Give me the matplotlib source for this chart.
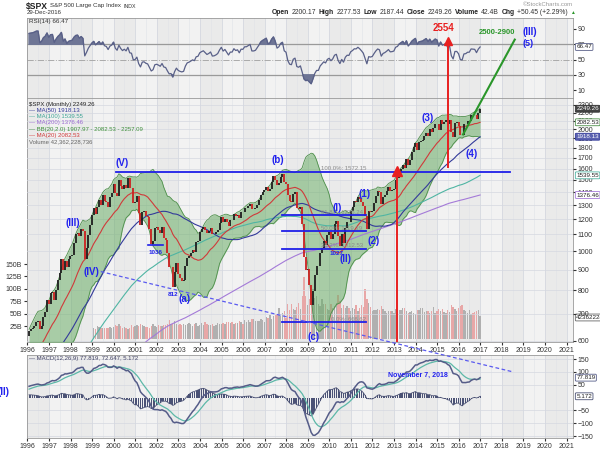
import numpy as np
import pandas as pd
import matplotlib
matplotlib.use("Agg")
import matplotlib.pyplot as plt
import matplotlib.transforms as mtransforms
from matplotlib.lines import Line2D

plt.rcParams["font.family"] = ["Liberation Sans", "DejaVu Sans"]

# S&P 500 monthly closes (Jan 1984 .. Dec 2016); pre-1996 only feeds the indicators
close_1984_1989 = [163.4, 157.1, 159.2, 160.1, 150.6, 153.2, 150.7, 166.7, 166.1, 166.1, 163.6, 167.2,
                   179.6, 181.2, 180.7, 179.8, 189.6, 191.9, 190.9, 188.6, 182.1, 189.8, 202.2, 211.3,
                   211.8, 226.9, 238.9, 235.5, 247.4, 250.8, 236.1, 252.9, 231.3, 244.0, 249.2, 242.2,
                   274.1, 284.2, 291.7, 288.4, 290.1, 304.0, 318.7, 329.8, 321.8, 251.8, 230.3, 247.1,
                   257.1, 267.8, 258.9, 261.3, 262.2, 273.5, 272.0, 261.5, 271.9, 279.0, 273.7, 277.7,
                   297.5, 288.9, 294.9, 309.6, 320.5, 318.0, 346.1, 351.5, 349.2, 340.4, 346.0, 353.4]
close_1990_1995 = [329.1, 331.9, 339.9, 330.8, 361.2, 358.0, 356.2, 322.6, 306.1, 304.0, 322.2, 330.2,
                   343.9, 367.1, 375.2, 375.3, 389.8, 371.2, 387.8, 395.4, 387.9, 392.5, 375.2, 417.1,
                   408.8, 412.7, 403.7, 415.0, 415.4, 408.1, 424.2, 414.0, 417.8, 418.7, 431.4, 435.7,
                   438.8, 443.4, 451.7, 440.2, 450.2, 450.5, 448.1, 463.6, 458.9, 467.8, 461.8, 466.5,
                   481.6, 467.1, 445.8, 450.9, 456.5, 444.3, 458.3, 475.5, 462.7, 472.4, 453.7, 459.3,
                   470.4, 487.4, 500.7, 514.7, 533.4, 544.8, 562.1, 561.9, 584.4, 581.5, 605.4, 615.9]
close_1996_2001 = [636.0, 640.4, 645.5, 654.2, 669.1, 670.6, 640.0, 652.0, 687.3, 705.3, 757.0, 740.7,
                   786.2, 790.8, 757.1, 801.3, 848.3, 885.1, 954.3, 899.5, 947.3, 914.6, 955.4, 970.4,
                   980.3, 1049.3, 1101.8, 1111.8, 1090.8, 1133.8, 1120.7, 957.3, 1017.0, 1098.7, 1163.6, 1229.2,
                   1279.6, 1238.3, 1286.4, 1335.2, 1301.8, 1372.7, 1328.7, 1320.4, 1282.7, 1362.9, 1388.9, 1469.3,
                   1394.5, 1366.4, 1498.6, 1452.4, 1420.6, 1454.6, 1430.8, 1517.7, 1436.5, 1429.4, 1315.2, 1320.3,
                   1366.0, 1239.9, 1160.3, 1249.5, 1255.8, 1224.4, 1211.2, 1133.6, 1040.9, 1059.8, 1139.5, 1148.1]
close_2002_2007 = [1130.2, 1106.7, 1147.4, 1076.9, 1067.1, 989.8, 911.6, 916.1, 815.3, 885.8, 936.3, 879.8,
                   855.7, 841.2, 848.2, 916.9, 963.6, 974.5, 990.3, 1008.0, 996.0, 1050.7, 1058.2, 1111.9,
                   1131.1, 1144.9, 1126.2, 1107.3, 1120.7, 1140.8, 1101.7, 1104.2, 1114.6, 1130.2, 1173.8, 1211.9,
                   1181.3, 1203.6, 1180.6, 1156.9, 1191.5, 1191.3, 1234.2, 1220.3, 1228.8, 1207.0, 1249.5, 1248.3,
                   1280.1, 1280.7, 1294.8, 1310.6, 1270.1, 1270.2, 1276.7, 1303.8, 1335.9, 1377.9, 1400.6, 1418.3,
                   1438.2, 1406.8, 1420.9, 1482.4, 1530.6, 1503.4, 1455.3, 1474.0, 1526.8, 1549.4, 1481.1, 1468.4]
close_2008_2012 = [1378.6, 1330.6, 1322.7, 1385.6, 1400.4, 1280.0, 1267.4, 1282.8, 1166.4, 968.8, 896.2, 903.3,
                   825.9, 735.1, 797.9, 872.8, 919.1, 919.3, 987.5, 1020.6, 1057.1, 1036.2, 1095.6, 1115.1,
                   1073.9, 1104.5, 1169.4, 1186.7, 1089.4, 1030.7, 1101.6, 1049.3, 1141.2, 1183.3, 1180.6, 1257.6,
                   1286.1, 1327.2, 1325.8, 1363.6, 1345.2, 1320.6, 1292.3, 1218.9, 1131.4, 1253.3, 1247.0, 1257.6,
                   1312.4, 1365.7, 1408.5, 1397.9, 1310.3, 1362.2, 1379.3, 1406.6, 1440.7, 1412.2, 1416.2, 1426.2]
close_2013_2016 = [1498.1, 1514.7, 1569.2, 1597.6, 1630.7, 1606.3, 1685.7, 1633.0, 1681.6, 1756.5, 1805.8, 1848.4,
                   1782.6, 1859.5, 1872.3, 1884.0, 1923.6, 1960.2, 1930.7, 2003.4, 1972.3, 2018.1, 2067.6, 2058.9,
                   1995.0, 2104.5, 2067.9, 2085.5, 2107.4, 2063.1, 2103.8, 1972.2, 1920.0, 2079.4, 2080.4, 2043.9,
                   1940.2, 1932.2, 2059.7, 2065.3, 2097.0, 2098.9, 2173.6, 2171.0, 2168.3, 2126.2, 2198.8, 2249.26]

# monthly volume in billions, Jan 1999 .. Dec 2016
vol_1999_2004 = [22, 20, 25, 23, 22, 22, 21, 21, 22, 24, 22, 24,
                 27, 25, 30, 26, 22, 23, 21, 20, 21, 27, 24, 25,
                 28, 25, 30, 27, 25, 23, 23, 22, 25, 30, 26, 24,
                 28, 26, 26, 27, 27, 30, 38, 30, 30, 35, 29, 27,
                 30, 27, 30, 28, 30, 32, 30, 26, 30, 31, 26, 27,
                 31, 28, 33, 29, 28, 28, 29, 26, 28, 31, 30, 30]
vol_2005_2010 = [31, 29, 33, 33, 32, 33, 30, 31, 32, 36, 33, 30,
                 37, 33, 38, 33, 40, 39, 36, 35, 36, 40, 38, 33,
                 44, 41, 48, 40, 45, 47, 50, 62, 46, 52, 55, 42,
                 70, 58, 70, 60, 58, 64, 72, 60, 85, 124, 85, 68,
                 80, 90, 100, 82, 85, 70, 65, 80, 70, 70, 60, 58,
                 70, 62, 65, 72, 88, 75, 62, 68, 62, 65, 62, 55]
vol_2011_2016 = [62, 60, 68, 56, 62, 68, 64, 100, 80, 72, 64, 55,
                 58, 58, 60, 58, 65, 60, 56, 52, 55, 55, 55, 52,
                 60, 55, 58, 58, 62, 62, 56, 52, 54, 56, 52, 50,
                 58, 58, 62, 62, 54, 55, 56, 52, 55, 64, 52, 56,
                 60, 55, 60, 54, 52, 58, 54, 68, 64, 60, 55, 62,
                 66, 68, 58, 56, 52, 57, 50, 52, 54, 55, 58, 45]

# wave count labels (text, year, price)
wave_labels = [("(V)", 2000.4, 1650), ("(b)", 2007.6, 1677), ("(III)", 1998.1, 1173),
               ("(IV)", 1998.95, 887), ("(a)", 2003.3, 761), ("(c)", 2009.25, 613),
               ("(I)", 2010.35, 1277), ("(II)", 2010.75, 956), ("(1)", 2011.65, 1382),
               ("(2)", 2012.05, 1058), ("(3)", 2014.55, 2130), ("(4)", 2016.6, 1735)]
small_labels = [("1036", 2001.95, 994), ("812", 2002.75, 779), ("1027", 2010.35, 989)]

fib_pct = ["0.0%", "38.2%", "50.0%", "61.8%", "100.0%"]
fib_val = [666.62, 1012.53, 1119.39, 1226.24, 1572.15]

closes = close_1984_1989 + close_1990_1995 + close_1996_2001 + close_2002_2007 + close_2008_2012 + close_2013_2016
close = pd.Series(closes)
t = 1984 + (np.arange(len(close)) + 0.9) / 12.0
opens = close.shift(1)

ma20 = close.rolling(20).mean()
ma50 = close.rolling(50).mean()
ma100 = close.rolling(100).mean()
ma200 = close.rolling(200).mean()
sd20 = close.rolling(20).std(ddof=0)
bb_up = ma20 + 2 * sd20
bb_lo = ma20 - 2 * sd20

d = close.diff()
ag = d.clip(lower=0).ewm(alpha=1/14, adjust=False).mean()
al = (-d.clip(upper=0)).ewm(alpha=1/14, adjust=False).mean()
rsi = 100 - 100 / (1 + ag / al)

macd = close.ewm(span=12, adjust=False).mean() - close.ewm(span=26, adjust=False).mean()
signal = macd.ewm(span=9, adjust=False).mean()
hist = macd - signal

show = t >= 1996
ts = t[show]

vols = np.array(vol_1999_2004 + vol_2005_2010 + vol_2011_2016, dtype=float)
tv = t[-len(vols):]
vol_up = close.values[-len(vols):] >= opens.values[-len(vols):]

blue = "#2222ee"
xlim = (1995.98, 2021.3)
years = np.arange(1996, 2022)

fig = plt.figure(figsize=(6, 4.5), dpi=100)


def background(a):
    a.set_facecolor("#f2f2f2")
    for y in years[::2]:
        a.axvspan(y, y + 1, color="#eaeaea", zorder=0, lw=0)
    for y in years:
        a.axvline(y, color="#d5d8e0", lw=0.6, zorder=0.5)
        a.axvline(y + 0.5, color="#e0e2e8", lw=0.4, zorder=0.5)
    for s in a.spines.values():
        s.set_color("#999999")
        s.set_linewidth(0.6)
    a.set_xlim(*xlim)
    a.tick_params(labelsize=5, length=2, colors="#333333", pad=1.5)


def value_box(a, y, txt, ec, fc="white", tc="#222222"):
    tr = mtransforms.blended_transform_factory(a.transAxes, a.transData)
    a.text(1.006, y, txt, transform=tr, fontsize=4.5, color=tc, va="center", ha="left",
           bbox=dict(boxstyle="round,pad=0.15", fc=fc, ec=ec, lw=0.6), zorder=10, clip_on=False)


# RSI panel
ax_r = fig.add_axes([0.045, 0.782, 0.91, 0.178])
background(ax_r)
r = rsi[show].values
ax_r.plot(ts, r, color="#596088", lw=0.9, zorder=3)
ax_r.fill_between(ts, r, 70, where=r > 70, interpolate=True, color="#6e7595", zorder=2)
ax_r.fill_between(ts, r, 30, where=r < 30, interpolate=True, color="#6e7595", zorder=2)
ax_r.axhline(70, color="#9a9a9a", lw=0.9, zorder=1)
ax_r.axhline(30, color="#9a9a9a", lw=0.9, zorder=1)
ax_r.axhline(50, color="#aaaaaa", lw=0.7, ls="-.", zorder=1)
ax_r.set_ylim(-0.5, 104.4)
ax_r.yaxis.tick_right()
ax_r.set_yticks([10, 30, 50, 70, 90])
ax_r.set_xticks(years)
ax_r.set_xticklabels([])
ax_r.tick_params(axis="x", length=0)
ax_r.text(0.004, 0.985, "RSI(14) 66.47", transform=ax_r.transAxes, fontsize=4.5, va="top", color="#333333")
value_box(ax_r, rsi.values[-1], "66.47", "#596088")

# price panel (volume underneath on the left scale)
ax_v = fig.add_axes([0.045, 0.240, 0.91, 0.542])
background(ax_v)
ax_v.bar(tv, vols, width=1/12 * 0.75, color=np.where(vol_up, "#b0b0b0", "#e8a7a7"), zorder=1)
ax_v.set_ylim(-7, 484)
ax_v.set_yticks([25, 50, 75, 100, 125, 150])
ax_v.set_yticklabels(["25B", "50B", "75B", "100B", "125B", "150B"])
ax_v.set_xticks(years)
ax_v.set_xticklabels([str(y) for y in years])
value_box(ax_v, 42.36, "42362228736", "#666666")

ax = ax_v.twinx()
ax.set_yscale("log")
ax.set_ylim(596, 2390)
ax.set_xlim(*xlim)
ticks = [600, 700, 800, 900, 1000, 1100, 1200, 1300, 1400, 1500, 1600, 1700, 1800, 1900, 2000, 2100, 2200, 2300]
ax.set_yticks(ticks)
ax.set_yticklabels([str(v) for v in ticks])
ax.yaxis.set_minor_locator(matplotlib.ticker.NullLocator())
ax.tick_params(labelsize=5, length=2, colors="#333333", pad=1.5)
ax.grid(axis="y", color="#d5d8e0", lw=0.5)
ax.set_axisbelow(True)
for s in ax.spines.values():
    s.set_visible(False)

ax.fill_between(ts, bb_lo[show], bb_up[show], color="#6cae68", alpha=0.55, lw=0, zorder=2)
ax.plot(ts, bb_up[show], color="#4d8f4a", lw=0.6, zorder=2)
ax.plot(ts, bb_lo[show], color="#4d8f4a", lw=0.6, zorder=2)
ax.plot(ts, ma200[show], color="#a47ad8", lw=0.8, zorder=3)
ax.plot(ts, ma100[show], color="#4fb5a3", lw=0.8, zorder=3)
ax.plot(ts, ma50[show], color="#333a9a", lw=0.8, zorder=3)
ax.plot(ts, ma20[show], color="#d03a3a", lw=0.8, zorder=3)

o = opens[show].values
c = close[show].values
up = c >= o
ax.vlines(ts[up], o[up], c[up], color="#1e1e1e", lw=1.3, zorder=4)
ax.vlines(ts[~up], o[~up], c[~up], color="#cc2020", lw=1.3, zorder=4)

# fibonacci retracement lines
for p, v in zip(fib_pct, fib_val):
    x0, x1 = (2000.1, 2018.4) if p == "100.0%" else (2007.8, 2011.7)
    ax.plot([x0, x1], [v, v], color="#1f1fe8", lw=1.3, zorder=6)
    tx = 2009.6 if p != "0.0%" else 2010.1
    ax.text(tx, v * 1.004, f"{p}: {v:.2f}", fontsize=4.3, color="#8a8a8a", va="bottom", zorder=6)
ax.plot([2001.6, 2002.3], [1036, 1036], color="#1f1fe8", lw=1.2, zorder=6)

for s, x, y in wave_labels:
    ax.text(x, y, s, fontsize=7, color=blue, fontweight="bold", ha="center", va="center", zorder=8)
for s, x, y in small_labels:
    ax.text(x, y, s, fontsize=4.5, color=blue, fontweight="bold", ha="center", va="center", zorder=8)

# red marker line 2013
ax.plot([2013.15, 2013.15], [596, 1570], color="#e82020", lw=1.4, zorder=7)
ax.plot([2013.15], [1575], marker="^", ms=7, color="#e82020", zorder=7)

legend = [("$SPX (Monthly) 2249.26", "#222222"), ("— MA(50) 1918.13", "#333a9a"),
          ("— MA(100) 1539.55", "#3fa595"), ("— MA(200) 1376.46", "#9a6ad0"),
          ("— BB(20,2.0) 1907.97 - 2082.53 - 2257.09", "#3f8f3c"), ("— MA(20) 2082.53", "#d03a3a"),
          ("Volume 42,362,228,736", "#666666")]
for i, (s, col) in enumerate(legend):
    ax.text(0.004, 0.985 - i * 0.0255, s, transform=ax.transAxes, fontsize=4.3, color=col, va="top", zorder=9)

value_box(ax, 2249.26, "2249.26", "#333333", fc="#444444", tc="white")
value_box(ax, 2082.53, "2082.53", "#4d8f4a")
value_box(ax, 1918.13, "1918.13", "#333a9a", fc="#5b62b0", tc="white")
value_box(ax, 1539.55, "1539.55", "#4fb5a3")
value_box(ax, 1376.46, "1376.46", "#a47ad8")

# MACD panel
ax_m = fig.add_axes([0.045, 0.027, 0.91, 0.184])
background(ax_m)
ax_m.bar(ts, hist[show], width=1/12 * 0.6, color="#4b5275", zorder=2)
ax_m.plot(ts, hist[show], color="#4b5275", lw=0.6, zorder=2)
ax_m.plot(ts, signal[show], color="#5cb8a8", lw=0.9, zorder=3)
ax_m.plot(ts, macd[show], color="#555c88", lw=1.1, zorder=4)
ax_m.set_ylim(-157, 166)
ax_m.yaxis.tick_right()
ax_m.set_yticks([-150, -100, -50, 50, 100, 150])
ax_m.grid(axis="y", color="#d5d8e0", lw=0.5)
ax_m.set_axisbelow(True)
ax_m.set_xticks(years)
ax_m.set_xticklabels([str(y) for y in years])
ax_m.text(0.004, 0.985, "— MACD(12,26,9) 77.819, 72.647, 5.172", transform=ax_m.transAxes,
          fontsize=4.3, va="top", color="#444466")
ax_m.text(2014.1, 87, "November 7, 2018", fontsize=5, color=blue, fontweight="bold", ha="center",
          va="center", zorder=8)
value_box(ax_m, macd.values[-1], "77.819", "#555c88")
value_box(ax_m, hist.values[-1], "5.172", "#4b5275")

# annotations that cross panels
fig.add_artist(Line2D([1999.4, 2018.5], [890, 503], transform=ax.transData, color="#5a5af0",
                      lw=0.9, dashes=(3, 2), zorder=20))
fig.add_artist(Line2D([2016.2, 2018.6], [1943, 3335], transform=ax.transData, color="#2a962a",
                      lw=1.5, zorder=20))
fig.add_artist(Line2D([2015.5, 2015.5], [1610, 3250], transform=ax.transData, color="#e82020",
                      lw=1.4, zorder=20))
fig.add_artist(Line2D([2015.5], [3300], transform=ax.transData, marker="^", ms=6,
                      color="#e82020", zorder=20))
fig.text(2015.3, 3560, "2554", transform=ax.transData, fontsize=7, color="#e82020",
         fontweight="bold", ha="center", va="center", zorder=21)
fig.text(2017.8, 3470, "2500-2900", transform=ax.transData, fontsize=5.5, color="#2a962a",
         fontweight="bold", ha="center", va="center", zorder=21)
fig.text(2019.3, 3490, "(III)", transform=ax.transData, fontsize=7, color=blue,
         fontweight="bold", ha="center", va="center", zorder=21)
fig.text(2019.2, 3260, "(5)", transform=ax.transData, fontsize=6.5, color=blue,
         fontweight="bold", ha="center", va="center", zorder=21)
fig.text(-0.004, 1 - 392 / 450, "(II)", fontsize=7, color=blue, fontweight="bold", va="center")

# header, pieces placed one after another
renderer = fig.canvas.get_renderer()


def chain(x_px, y_px, pieces, gap=2.5):
    x = x_px
    for s, fs, bold, col in pieces:
        tx = fig.text(x / 600, 1 - y_px / 450, s, fontsize=fs, color=col, va="center",
                      fontweight="bold" if bold else "normal")
        x += tx.get_window_extent(renderer=renderer).width + gap


chain(26, 6, [("$SPX", 6.2, True, "#222222"), ("S&P 500 Large Cap Index", 4.4, False, "#333333"),
              ("INDX", 3.8, False, "#333333")])
fig.text(27 / 600, 1 - 13 / 450, "29-Dec-2016", fontsize=4.4, va="center", color="#333333")
chain(272, 13, [("Open", 4.85, True, "#222222"), ("2200.17", 4.85, False, "#333333"),
                ("High", 4.85, True, "#222222"), ("2277.53", 4.85, False, "#333333"),
                ("Low", 4.85, True, "#222222"), ("2187.44", 4.85, False, "#333333"),
                ("Close", 4.85, True, "#222222"), ("2249.26", 4.85, False, "#333333"),
                ("Volume", 4.85, True, "#222222"), ("42.4B", 4.85, False, "#333333"),
                ("Chg", 4.85, True, "#222222"), ("+50.45 (+2.29%)", 4.85, False, "#333333"),
                ("▲", 3.5, False, "#2a962a")])
fig.text(573 / 600, 1 - 5 / 450, "©StockCharts.com", fontsize=4.3, va="center", ha="right", color="#999999")

fig.savefig("out.png", dpi=100)
